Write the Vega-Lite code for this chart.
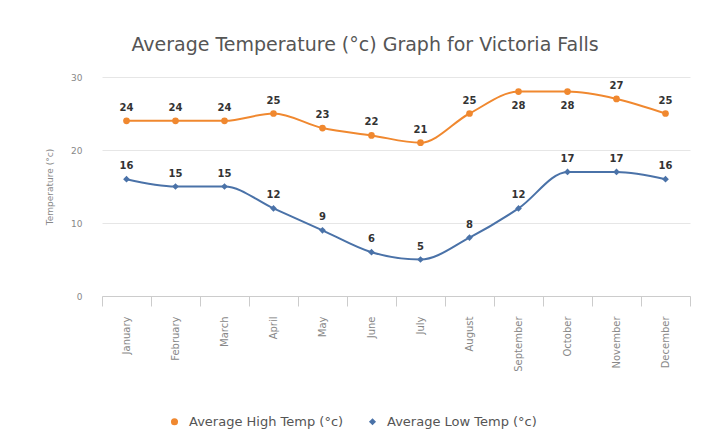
{
  "$schema": "https://vega.github.io/schema/vega-lite/v6.json",
  "width": 588,
  "height": 219,
  "autosize": {"type": "none"},
  "padding": {"left": 102, "top": 77, "right": 27, "bottom": 148},
  "background": "white",
  "title": {
    "text": "Average Temperature (°c) Graph for Victoria Falls",
    "font": "DejaVu Sans",
    "fontSize": 19,
    "fontWeight": "normal",
    "color": "#555555",
    "anchor": "middle",
    "dx": -31,
    "offset": 18
  },
  "config": {
    "view": {"stroke": null},
    "font": "DejaVu Sans",
    "legend": {
      "title": null,
      "orient": "none",
      "direction": "horizontal",
      "legendX": 66,
      "legendY": 338,
      "labelFontSize": 13,
      "labelColor": "#555555",
      "symbolSize": 50,
      "symbolStrokeWidth": 0,
      "columnPadding": 22,
      "labelOffset": 8
    }
  },
  "data": {
    "values": [
      {"month": "January", "series": "Average High Temp (°c)", "temp": 24},
      {"month": "February", "series": "Average High Temp (°c)", "temp": 24},
      {"month": "March", "series": "Average High Temp (°c)", "temp": 24},
      {"month": "April", "series": "Average High Temp (°c)", "temp": 25},
      {"month": "May", "series": "Average High Temp (°c)", "temp": 23},
      {"month": "June", "series": "Average High Temp (°c)", "temp": 22},
      {"month": "July", "series": "Average High Temp (°c)", "temp": 21},
      {"month": "August", "series": "Average High Temp (°c)", "temp": 25},
      {"month": "September", "series": "Average High Temp (°c)", "temp": 28},
      {"month": "October", "series": "Average High Temp (°c)", "temp": 28},
      {"month": "November", "series": "Average High Temp (°c)", "temp": 27},
      {"month": "December", "series": "Average High Temp (°c)", "temp": 25},
      {"month": "January", "series": "Average Low Temp (°c)", "temp": 16},
      {"month": "February", "series": "Average Low Temp (°c)", "temp": 15},
      {"month": "March", "series": "Average Low Temp (°c)", "temp": 15},
      {"month": "April", "series": "Average Low Temp (°c)", "temp": 12},
      {"month": "May", "series": "Average Low Temp (°c)", "temp": 9},
      {"month": "June", "series": "Average Low Temp (°c)", "temp": 6},
      {"month": "July", "series": "Average Low Temp (°c)", "temp": 5},
      {"month": "August", "series": "Average Low Temp (°c)", "temp": 8},
      {"month": "September", "series": "Average Low Temp (°c)", "temp": 12},
      {"month": "October", "series": "Average Low Temp (°c)", "temp": 17},
      {"month": "November", "series": "Average Low Temp (°c)", "temp": 17},
      {"month": "December", "series": "Average Low Temp (°c)", "temp": 16}
    ]
  },
  "encoding": {
    "x": {
      "field": "month",
      "type": "nominal",
      "bandPosition": 0.5,
      "sort": ["January","February","March","April","May","June","July","August","September","October","November","December"],
      "scale": {"type": "band", "paddingInner": 0, "paddingOuter": 0},
      "axis": {
        "title": null,
        "labelAngle": -90,
        "labelAlign": "right",
        "labelBaseline": "middle",
        "labelFontSize": 10,
        "labelColor": "#888888",
        "labelPadding": 10,
        "domainColor": "#cccccc",
        "tickColor": "#cccccc",
        "tickSize": 10,
        "tickBand": "extent",
        "grid": false
      }
    },
    "y": {
      "field": "temp",
      "type": "quantitative",
      "scale": {"domain": [0, 30], "nice": false},
      "axis": {
        "title": "Temperature (°c)",
        "titleFontSize": 9,
        "titleFontWeight": "normal",
        "titleColor": "#888888",
        "titlePadding": 16,
        "values": [0, 10, 20, 30],
        "labelFontSize": 9,
        "labelColor": "#888888",
        "labelPadding": 20,
        "domain": false,
        "ticks": false,
        "gridColor": "#e6e6e6"
      }
    }
  },
  "layer": [
    {
      "mark": {"type": "line", "interpolate": "monotone", "strokeWidth": 2},
      "encoding": {
        "stroke": {
          "field": "series",
          "type": "nominal",
          "scale": {"range": ["#f0882f", "#4a72a8"]},
          "legend": null
        }
      }
    },
    {
      "mark": {"type": "point", "filled": true, "opacity": 1, "size": 45},
      "encoding": {
        "color": {
          "field": "series",
          "type": "nominal",
          "scale": {"range": ["#f0882f", "#4a72a8"]}
        },
        "shape": {
          "field": "series",
          "type": "nominal",
          "scale": {"range": ["circle", "diamond"]}
        }
      }
    },
    {
      "transform": [{"filter": "!(datum.series == 'Average High Temp (°c)' && datum.temp == 28)"}],
      "mark": {"type": "text", "dy": -13, "fontSize": 10, "fontWeight": "bold", "color": "#333333"},
      "encoding": {"text": {"field": "temp", "type": "quantitative"}}
    },
    {
      "transform": [{"filter": "datum.series == 'Average High Temp (°c)' && datum.temp == 28"}],
      "mark": {"type": "text", "dy": 14, "fontSize": 10, "fontWeight": "bold", "color": "#333333"},
      "encoding": {"text": {"field": "temp", "type": "quantitative"}}
    }
  ]
}
